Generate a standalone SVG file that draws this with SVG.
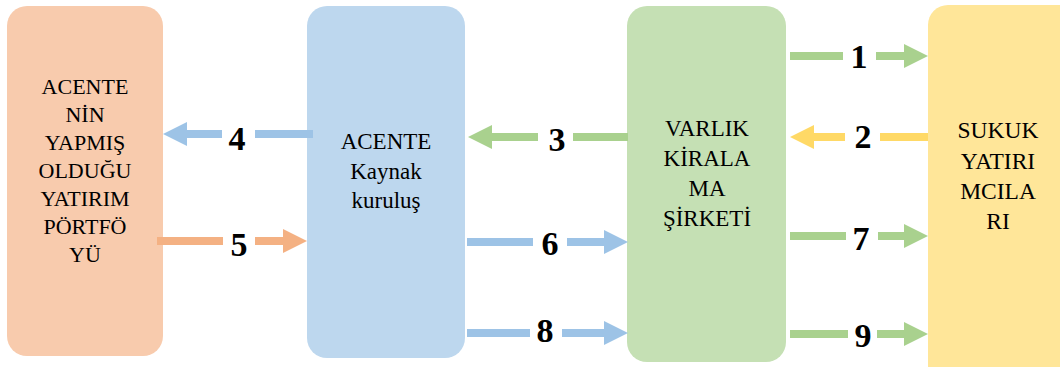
<svg xmlns="http://www.w3.org/2000/svg" width="1060" height="367" viewBox="0 0 1060 367">
  <style>
    .link { fill: none; stroke-width: 8; }
    .blue { stroke: #9DC3E6; }
    .orange { stroke: #F4B183; }
    .green { stroke: #A9D18E; }
    .yellow { stroke: #FFD966; }
  </style>
  <defs>
    <marker id="head-blue" viewBox="0 0 3 3" refX="0" refY="1.5" markerWidth="3" markerHeight="3" orient="auto" markerUnits="strokeWidth">
      <path d="M0,0 L3,1.5 L0,3 Z" fill="#9DC3E6"/>
    </marker>
    <marker id="head-orange" viewBox="0 0 3 3" refX="0" refY="1.5" markerWidth="3" markerHeight="3" orient="auto" markerUnits="strokeWidth">
      <path d="M0,0 L3,1.5 L0,3 Z" fill="#F4B183"/>
    </marker>
    <marker id="head-green" viewBox="0 0 3 3" refX="0" refY="1.5" markerWidth="3" markerHeight="3" orient="auto" markerUnits="strokeWidth">
      <path d="M0,0 L3,1.5 L0,3 Z" fill="#A9D18E"/>
    </marker>
    <marker id="head-yellow" viewBox="0 0 3 3" refX="0" refY="1.5" markerWidth="3" markerHeight="3" orient="auto" markerUnits="strokeWidth">
      <path d="M0,0 L3,1.5 L0,3 Z" fill="#FFD966"/>
    </marker>
  </defs>

  <!-- Portfolio of the agent -->
  <g id="portfolio">
    <rect x="7" y="6" width="156" height="350" rx="20" fill="#F8CBAD"/>
    <g font-family="Liberation Serif" font-size="22" text-anchor="middle" fill="#000">
      <text x="85" y="94">ACENTE</text>
      <text x="85" y="122">NİN</text>
      <text x="85" y="150">YAPMIŞ</text>
      <text x="85" y="178">OLDUĞU</text>
      <text x="85" y="206">YATIRIM</text>
      <text x="85" y="234">PÖRTFÖ</text>
      <text x="85" y="262">YÜ</text>
    </g>
  </g>

  <!-- Originator -->
  <g id="originator">
    <rect x="307" y="6" width="158" height="352" rx="20" fill="#BDD7EE"/>
    <g font-family="Liberation Serif" font-size="23" text-anchor="middle" fill="#000">
      <text x="386" y="149">ACENTE</text>
      <text x="386" y="179">Kaynak</text>
      <text x="386" y="208">kuruluş</text>
    </g>
  </g>

  <!-- Leasing company -->
  <g id="leasing">
    <rect x="627" y="6" width="159" height="356" rx="20" fill="#C5E0B4"/>
    <g font-family="Liberation Serif" font-size="23" text-anchor="middle" fill="#000">
      <text x="707" y="136">VARLIK</text>
      <text x="707" y="166">KİRALA</text>
      <text x="707" y="196">MA</text>
      <text x="707" y="226">ŞİRKETİ</text>
    </g>
  </g>

  <!-- Sukuk investors -->
  <g id="investors">
    <rect x="928" y="5" width="160" height="380" rx="20" fill="#FFE699"/>
    <g font-family="Liberation Serif" font-size="23.5" text-anchor="middle" fill="#000">
      <text x="998" y="138">SUKUK</text>
      <text x="998" y="169">YATIRI</text>
      <text x="998" y="199">MCILA</text>
      <text x="998" y="229">RI</text>
    </g>
  </g>

  <!-- Flows -->
  <g id="connectors">
    <path class="link green" d="M790,56 H843 M876,56 H904" marker-end="url(#head-green)"/>
    <path class="link yellow" d="M928,137 H880 M845,137 H814" marker-end="url(#head-yellow)"/>
    <path class="link green" d="M628,137 H573 M538,137 H492" marker-end="url(#head-green)"/>
    <path class="link blue" d="M313,134 H255 M222,134 H187" marker-end="url(#head-blue)"/>
    <path class="link orange" d="M157,241 H223 M255,241 H283" marker-end="url(#head-orange)"/>
    <path class="link blue" d="M467,242 H533 M567,242 H604" marker-end="url(#head-blue)"/>
    <path class="link green" d="M790,236 H846 M878,236 H904" marker-end="url(#head-green)"/>
    <path class="link blue" d="M467,333 H530 M562,333 H604" marker-end="url(#head-blue)"/>
    <path class="link green" d="M790,334 H848 M877,334 H904" marker-end="url(#head-green)"/>
    <g font-family="Liberation Serif" font-size="34" font-weight="bold" text-anchor="middle" fill="#000">
      <text x="859" y="68">1</text>
      <text x="863" y="148">2</text>
      <text x="557" y="151">3</text>
      <text x="237" y="150">4</text>
      <text x="239" y="256">5</text>
      <text x="550" y="255">6</text>
      <text x="861" y="250">7</text>
      <text x="545" y="342">8</text>
      <text x="863" y="347">9</text>
    </g>
  </g>
</svg>
